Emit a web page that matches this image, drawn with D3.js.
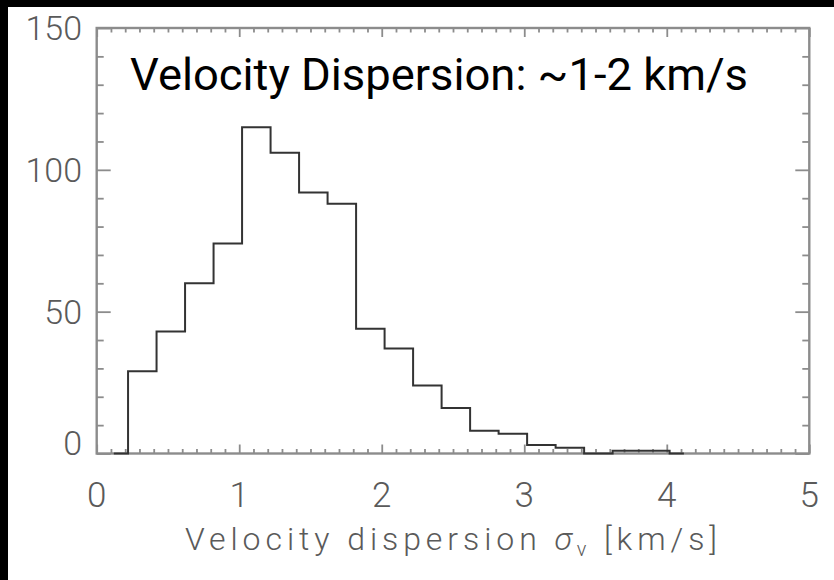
<!DOCTYPE html>
<html><head><meta charset="utf-8">
<script src="https://cdn.jsdelivr.net/npm/d3@7"></script>
<style>html,body{margin:0;padding:0;background:#fff;}svg{display:block;}</style>
</head><body>
<svg id="c" width="834" height="580"></svg>
<script>
// Data
const binCenters = [0.12,0.32,0.52,0.72,0.92,1.12,1.32,1.52,1.72,1.92,2.12,2.32,2.52,2.72,2.92,3.12,3.32,3.52,3.72,3.92,4.12];
const counts     = [0,   29,  43,  60,  74,  115, 106, 92,  88,  44,  37,  24,  16,  8,   7,   3,   2,   0,   1,   1,   0];
const xTickLabels = ["0","1","2","3","4","5"];
const yTickLabels = ["0","50","100","150"];
const xMajor = [0,1,2,3,4,5];
const yMajor = [0,50,100,150];
const titleText = "Velocity Dispersion: ~1-2 km/s";

(function(){
const svg = d3.select("#c");
const L = 96.7, R = 809.3, T = 28, B = 453.5;
const x = d3.scaleLinear().domain([0,5]).range([L,R]);
const y = d3.scaleLinear().domain([0,150]).range([B,T]);

// black border strips
svg.append("rect").attr("x",0).attr("y",0).attr("width",834).attr("height",7).attr("fill","#000");
svg.append("rect").attr("x",0).attr("y",0).attr("width",8).attr("height",580).attr("fill","#000");

const axisColor = "#8c8c8c";
const xMinor = d3.range(0,51).map(i=>i/10).filter(v=>Math.abs(v-Math.round(v))>1e-6);
const yMinor = d3.range(0,16).map(i=>i*10).filter(v=>v%50!==0);

const g = svg.append("g");
const axBottom = d3.axisBottom(x).tickValues(xMajor).tickSize(-9).tickFormat("");
const axBottomMinor = d3.axisBottom(x).tickValues(xMinor).tickSize(-4.5).tickFormat("");
const axTop = d3.axisTop(x).tickValues(xMajor).tickSize(-9).tickFormat("");
const axTopMinor = d3.axisTop(x).tickValues(xMinor).tickSize(-4.5).tickFormat("");
const axLeft = d3.axisLeft(y).tickValues(yMajor).tickSize(-14).tickFormat("");
const axLeftMinor = d3.axisLeft(y).tickValues(yMinor).tickSize(-7).tickFormat("");
const axRight = d3.axisRight(y).tickValues(yMajor).tickSize(-14).tickFormat("");
const axRightMinor = d3.axisRight(y).tickValues(yMinor).tickSize(-7).tickFormat("");

function addAxis(ax, tr){
  const a = g.append("g").attr("transform",tr).call(ax);
  a.select(".domain").remove();
  a.selectAll("line").attr("stroke",axisColor).attr("stroke-width",1.8);
}
addAxis(axBottom,`translate(0,${B})`);
addAxis(axBottomMinor,`translate(0,${B})`);
addAxis(axTop,`translate(0,${T})`);
addAxis(axTopMinor,`translate(0,${T})`);
addAxis(axLeft,`translate(${L},0)`);
addAxis(axLeftMinor,`translate(${L},0)`);
addAxis(axRight,`translate(${R},0)`);
addAxis(axRightMinor,`translate(${R},0)`);

// frame
g.append("rect").attr("x",L).attr("y",T).attr("width",R-L).attr("height",B-T)
  .attr("fill","none").attr("stroke",axisColor).attr("stroke-width",2.4);

// histogram step line
const line = d3.line().x((d,i)=>x(binCenters[i])).y(d=>y(d)).curve(d3.curveStep);
svg.append("path").attr("d",line(counts)).attr("fill","none")
  .attr("stroke","#333").attr("stroke-width",2);

// tick labels
const labFont = "Roboto, 'DejaVu Sans', sans-serif";
svg.append("g").selectAll("text").data(xMajor).join("text")
  .attr("x",d=>x(d)).attr("y",507).attr("text-anchor","middle")
  .attr("font-family",labFont).attr("font-weight",300).attr("font-size",35).attr("fill","#5a5a5a")
  .text((d,i)=>xTickLabels[i]);
svg.append("g").selectAll("text").data(yMajor).join("text")
  .attr("x",82).attr("y",d=>Math.min(y(d)+12, B+1)).attr("text-anchor","end")
  .attr("font-family",labFont).attr("font-weight",300).attr("font-size",34).attr("fill","#5a5a5a")
  .text((d,i)=>yTickLabels[i]);

// x-axis title
const xt = svg.append("text").attr("x",185).attr("y",550)
  .attr("font-family",labFont).attr("font-weight",300).attr("font-size",32).attr("fill","#5a5a5a")
  .attr("textLength",532).attr("lengthAdjust","spacing");
xt.append("tspan").text("Velocity dispersion ");
xt.append("tspan").attr("font-style","italic").text("σ");
xt.append("tspan").attr("font-size",20).attr("dy",6).text("v");
xt.append("tspan").attr("dy",-6).text(" [km/s]");

// title
svg.append("text").attr("x",130).attr("y",90)
  .attr("font-family","Roboto, sans-serif").attr("font-size",45).attr("fill","#000")
  .attr("textLength",618).attr("lengthAdjust","spacingAndGlyphs")
  .text(titleText);
})();
</script>
</body></html>
